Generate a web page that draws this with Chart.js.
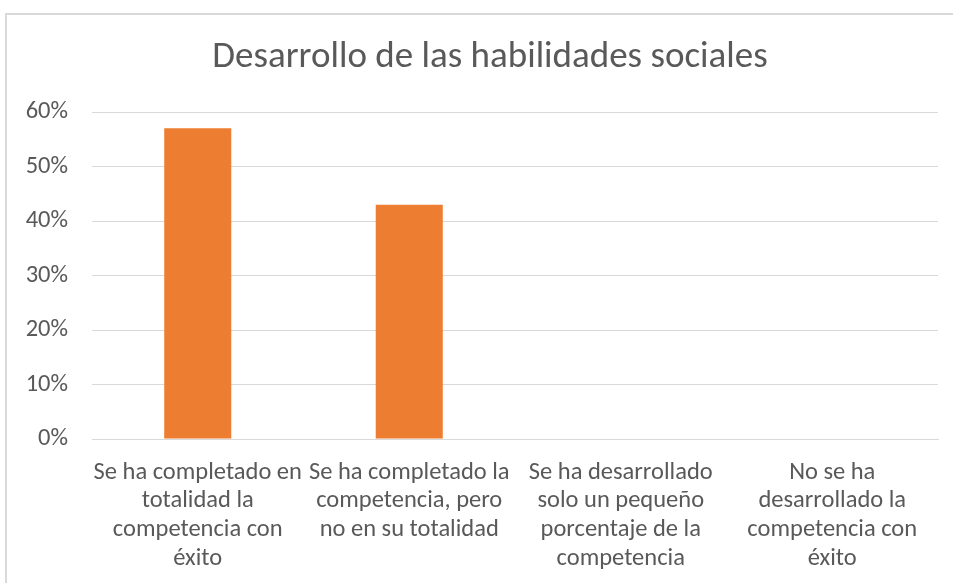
<!DOCTYPE html>
<html>
<head>
<meta charset="utf-8">
<script src="https://cdn.jsdelivr.net/npm/chart.js@4"></script>
<style>
html,body{margin:0;padding:0;background:#fff;overflow:hidden;}
#frame{position:absolute;left:5px;top:13px;width:1000px;height:700px;border:2px solid #d9d9d9;box-sizing:border-box;}
#wrap{position:absolute;left:0;top:0;width:953px;height:583px;}
</style>
</head>
<body>
<div id="frame"></div>
<div id="wrap"><canvas id="c" width="953" height="583"></canvas></div>
<script>
const title = "Desarrollo de las habilidades sociales";
const categories = [
  ["Se ha completado en", "totalidad la", "competencia con", "éxito"],
  ["Se ha completado la", "competencia, pero", "no en su totalidad"],
  ["Se ha desarrollado", "solo un pequeño", "porcentaje de la", "competencia"],
  ["No se ha", "desarrollado la", "competencia con", "éxito"]
];
const values = [57, 43, 0, 0];
const yTicks = [0, 10, 20, 30, 40, 50, 60];

const FONT = "Carlito, Lato, 'Liberation Sans', sans-serif";
const GREY = "#595959";

const titlePlugin = {
  id: 'offsetTitle',
  afterDraw(chart) {
    const ctx = chart.ctx;
    ctx.save();
    ctx.font = "normal 37px " + FONT;
    ctx.fillStyle = GREY;
    ctx.textAlign = 'center';
    ctx.textBaseline = 'middle';
    const cx = (chart.chartArea.left + chart.chartArea.right) / 2 - 25;
    ctx.fillText(title, cx, 58);
    ctx.restore();
  }
};

new Chart(document.getElementById('c'), {
  type: 'bar',
  data: {
    labels: categories,
    datasets: [{
      data: values,
      backgroundColor: '#ED7D31',
      borderWidth: 0,
      categoryPercentage: 1,
      barPercentage: 0.317
    }]
  },
  options: {
    responsive: false,
    animation: false,
    layout: { padding: { left: 0, right: 15, top: 112, bottom: 0 } },
    plugins: {
      legend: { display: false },
      tooltip: { enabled: false },
      title: { display: false }
    },
    scales: {
      y: {
        min: 0, max: 60,
        afterBuildTicks: (s) => { s.ticks = yTicks.map(v => ({ value: v })); },
        afterFit: (s) => { s.width = 92; },
        ticks: {
          color: GREY,
          font: { family: FONT, size: 24.5 },
          padding: 24,
          callback: (v) => v + '%'
        },
        grid: { color: '#d9d9d9', lineWidth: 1, drawTicks: false },
        border: { display: false }
      },
      x: {
        afterFit: (s) => { s.height = 144; },
        ticks: {
          color: GREY,
          font: { family: FONT, size: 24.5, lineHeight: 1.18 },
          padding: 19,
          maxRotation: 0,
          autoSkip: false
        },
        grid: { display: false, drawTicks: false },
        border: { display: true, color: '#d9d9d9', width: 1 }
      }
    }
  },
  plugins: [titlePlugin]
});
</script>
</body>
</html>
